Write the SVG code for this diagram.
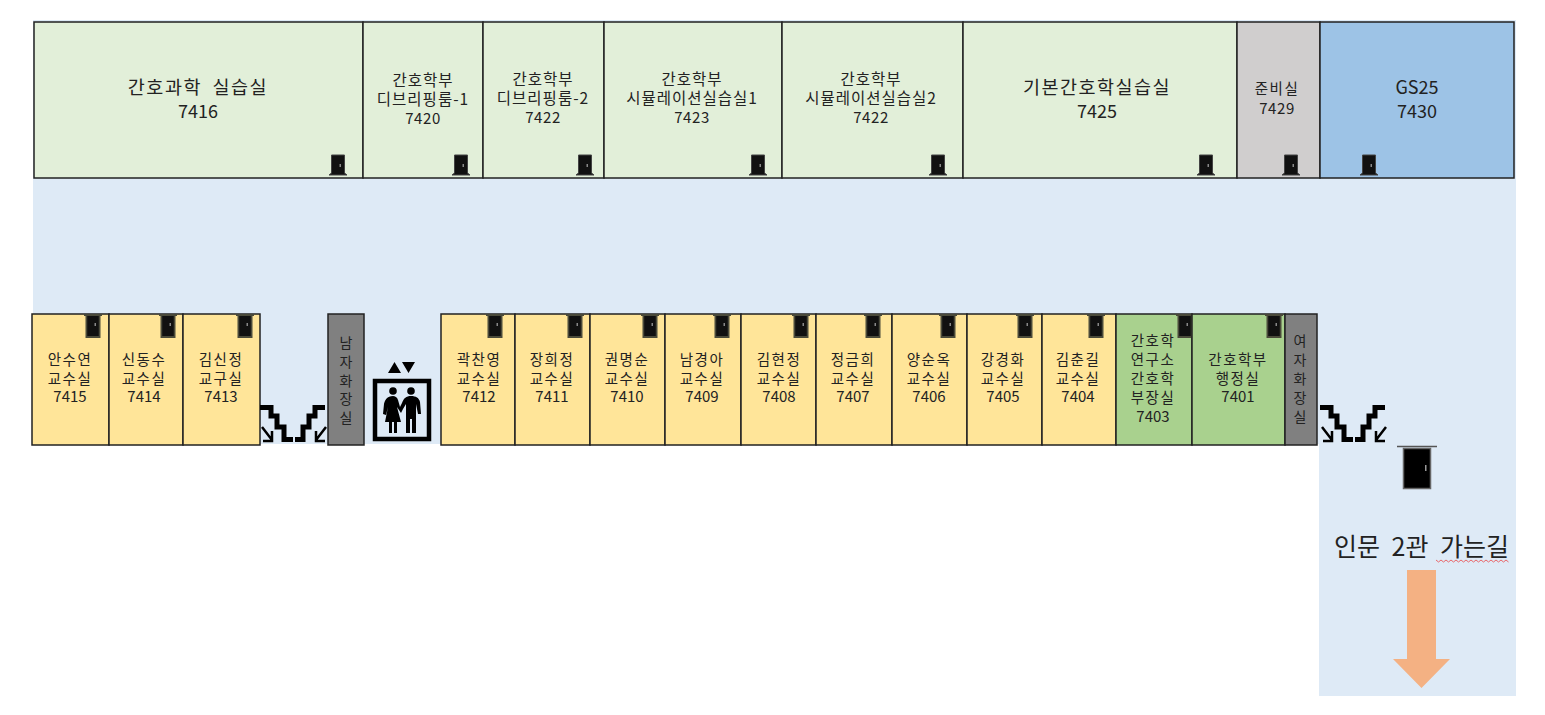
<svg xmlns="http://www.w3.org/2000/svg" xmlns:xlink="http://www.w3.org/1999/xlink" width="1545" height="715" viewBox="0 0 1545 715">
<style>
text{font-family:"Noto Sans CJK KR","Noto Sans",sans-serif;fill:#222;text-anchor:middle}
.s{font-size:14.500px;letter-spacing:1.500px}.t{font-size:14px}.sd{font-size:15px}.m{font-size:15.500px;letter-spacing:1px}.md{font-size:15px;letter-spacing:.6px}.l{font-size:18.500px;letter-spacing:1.500px;word-spacing:5px}.ld{font-size:18px}
.room{stroke:#222;stroke-width:1.5}
.g{fill:#e2efd9}.y{fill:#ffe599}.n{fill:#a9d18e}.d{fill:#808080}
.st{fill:none;stroke:#000;stroke-width:5}
.ar{fill:none;stroke:#000;stroke-width:2.5}
</style>
<defs>
<g id="door-b"><path d="M-6.500 -20 H6.500 V-2 L9 0 H-9 L-6.500 -2Z" fill="#111" stroke="#444" stroke-width="1"/><rect x="1.500" y="-11" width="1.500" height="3" fill="#888"/></g>
<g id="door-t"><path d="M-9 0 H9 M-6.500 0 V22 H6.500 V0" fill="#111" stroke="#4a4a3a" stroke-width="2"/><rect x="-5.500" y="1" width="11" height="20" fill="#111"/><rect x="1.500" y="8" width="1.500" height="3" fill="#888"/></g>
<g id="stairs">
<path class="st" d="M260 407.500H271V416H277V427H284V439.500H293M295 439.500H303V427H309V416H315V407.500H325"/>
<path class="ar" d="M262 427L272 440M272 431V441H263M326 427L316 440M316 431V441H325"/>
</g>
</defs>
<path id="floor" d="M33 20H1516V696H1319V444H33Z" fill="#deeaf6"/>
<g id="r7416"><rect class="room g" x="34" y="22" width="329" height="156"/><text class="l" x="198" y="94">간호과학 실습실</text><text class="ld" x="198" y="118">7416</text><use xlink:href="#door-b" x="338" y="175"/></g>
<g id="r7420"><rect class="room g" x="363" y="22" width="120" height="156"/><text class="m" x="423" y="86">간호학부</text><text class="m" x="423" y="105">디브리핑룸-1</text><text class="md" x="423" y="124">7420</text><use xlink:href="#door-b" x="461" y="175"/></g>
<g id="r7422a"><rect class="room g" x="483" y="22" width="121" height="156"/><text class="m" x="543" y="85">간호학부</text><text class="m" x="543" y="104">디브리핑룸-2</text><text class="md" x="543" y="123">7422</text><use xlink:href="#door-b" x="585" y="175"/></g>
<g id="r7423"><rect class="room g" x="604" y="22" width="178" height="156"/><text class="m" x="692" y="85">간호학부</text><text class="m" x="692" y="104">시뮬레이션실습실1</text><text class="md" x="692" y="123">7423</text><use xlink:href="#door-b" x="758" y="175"/></g>
<g id="r7422b"><rect class="room g" x="782" y="22" width="181" height="156"/><text class="m" x="871" y="85">간호학부</text><text class="m" x="871" y="104">시뮬레이션실습실2</text><text class="md" x="871" y="123">7422</text><use xlink:href="#door-b" x="938" y="175"/></g>
<g id="r7425"><rect class="room g" x="963" y="22" width="274" height="156"/><text class="l" x="1097" y="94">기본간호학실습실</text><text class="ld" x="1097" y="118">7425</text><use xlink:href="#door-b" x="1206" y="175"/></g>
<g id="r7429"><rect class="room" fill="#d0cece" x="1237" y="22" width="83" height="156"/><text class="s" x="1277" y="94">준비실</text><text class="md" x="1277" y="114">7429</text><use xlink:href="#door-b" x="1291" y="175"/></g>
<g id="r7430"><rect class="room" fill="#9dc3e6" x="1320" y="22" width="194" height="156"/><text class="ld" x="1417" y="94">GS25</text><text class="ld" x="1417" y="118">7430</text><use xlink:href="#door-b" x="1369" y="175"/></g>

<g id="r7415"><rect class="room y" x="32" y="314" width="77" height="131"/><text class="s" x="70" y="365">안수연</text><text class="s" x="70" y="384">교수실</text><text class="sd" x="70" y="402">7415</text><use xlink:href="#door-t" x="93" y="315"/></g>
<g id="r7414"><rect class="room y" x="109" y="314" width="74" height="131"/><text class="s" x="144" y="365">신동수</text><text class="s" x="144" y="384">교수실</text><text class="sd" x="144" y="402">7414</text><use xlink:href="#door-t" x="168" y="315"/></g>
<g id="r7413"><rect class="room y" x="183" y="314" width="77" height="131"/><text class="s" x="221" y="365">김신정</text><text class="s" x="221" y="384">교구실</text><text class="sd" x="221" y="402">7413</text><use xlink:href="#door-t" x="245" y="315"/></g>
<g id="stairs-left"><use xlink:href="#stairs"/></g>
<g id="toilet-m"><rect class="room d" x="328" y="314" width="36" height="131"/><text class="t" x="346" y="348">남</text><text class="t" x="346" y="367">자</text><text class="t" x="346" y="386">화</text><text class="t" x="346" y="404">장</text><text class="t" x="346" y="423">실</text></g>
<g id="elevator">
<rect x="375" y="381" width="54" height="58" fill="none" stroke="#000" stroke-width="4.500"/>
<path d="M388 373L394.500 362L401 373ZM402 362H415L408.500 373Z" fill="#000"/>
<circle cx="393" cy="391" r="3.800"/><circle cx="411" cy="391" r="3.800"/>
<path d="M393 396C387 396 385 400 384 404L383 414L386 415L388 407L385 422H389V433H392V422H394V433H397V422H401L397 407L401 413L403 409L406 404V433H410V419H412V433H416V404L418 414L421 414L420 402C419 398 416 396 411 396C406 396 404 398 402 403L400 407L398 400C397 397 395 396 393 396Z" fill="#000"/>
</g>
<g id="r7412"><rect class="room y" x="441" y="314" width="74" height="131"/><text class="s" x="479" y="365">곽찬영</text><text class="s" x="479" y="384">교수실</text><text class="sd" x="479" y="402">7412</text><use xlink:href="#door-t" x="495" y="315"/></g>
<g id="r7411"><rect class="room y" x="515" y="314" width="75" height="131"/><text class="s" x="552" y="365">장희정</text><text class="s" x="552" y="384">교수실</text><text class="sd" x="552" y="402">7411</text><use xlink:href="#door-t" x="575" y="315"/></g>
<g id="r7410"><rect class="room y" x="590" y="314" width="75" height="131"/><text class="s" x="627" y="365">권명순</text><text class="s" x="627" y="384">교수실</text><text class="sd" x="627" y="402">7410</text><use xlink:href="#door-t" x="650" y="315"/></g>
<g id="r7409"><rect class="room y" x="665" y="314" width="76" height="131"/><text class="s" x="702" y="365">남경아</text><text class="s" x="702" y="384">교수실</text><text class="sd" x="702" y="402">7409</text><use xlink:href="#door-t" x="722" y="315"/></g>
<g id="r7408"><rect class="room y" x="741" y="314" width="75" height="131"/><text class="s" x="779" y="365">김현정</text><text class="s" x="779" y="384">교수실</text><text class="sd" x="779" y="402">7408</text><use xlink:href="#door-t" x="801" y="315"/></g>
<g id="r7407"><rect class="room y" x="816" y="314" width="76" height="131"/><text class="s" x="853" y="365">정금희</text><text class="s" x="853" y="384">교수실</text><text class="sd" x="853" y="402">7407</text><use xlink:href="#door-t" x="873" y="315"/></g>
<g id="r7406"><rect class="room y" x="892" y="314" width="75" height="131"/><text class="s" x="929" y="365">양순옥</text><text class="s" x="929" y="384">교수실</text><text class="sd" x="929" y="402">7406</text><use xlink:href="#door-t" x="948" y="315"/></g>
<g id="r7405"><rect class="room y" x="967" y="314" width="75" height="131"/><text class="s" x="1003" y="365">강경화</text><text class="s" x="1003" y="384">교수실</text><text class="sd" x="1003" y="402">7405</text><use xlink:href="#door-t" x="1025" y="315"/></g>
<g id="r7404"><rect class="room y" x="1042" y="314" width="74" height="131"/><text class="s" x="1078" y="365">김춘길</text><text class="s" x="1078" y="384">교수실</text><text class="sd" x="1078" y="402">7404</text><use xlink:href="#door-t" x="1096" y="315"/></g>
<g id="r7403"><rect class="room n" x="1116" y="314" width="76" height="131"/><text class="s" x="1153" y="346">간호학</text><text class="s" x="1153" y="365">연구소</text><text class="s" x="1153" y="384">간호학</text><text class="s" x="1153" y="403">부장실</text><text class="sd" x="1153" y="422">7403</text><use xlink:href="#door-t" x="1185" y="315"/></g>
<g id="r7401"><rect class="room n" x="1192" y="314" width="93" height="131"/><text class="s" x="1238" y="365">간호학부</text><text class="s" x="1238" y="384">행정실</text><text class="sd" x="1238" y="402">7401</text><use xlink:href="#door-t" x="1274" y="315"/></g>
<g id="toilet-f"><rect class="room d" x="1285" y="314" width="32" height="131"/><text class="t" x="1300" y="346">여</text><text class="t" x="1300" y="365">자</text><text class="t" x="1300" y="384">화</text><text class="t" x="1300" y="403">장</text><text class="t" x="1300" y="422">실</text></g>
<g id="stairs-right"><use xlink:href="#stairs" x="1060"/></g>
<g id="exit-door"><path d="M1397 446.500H1437" stroke="#555" stroke-width="1.500"/><rect x="1403.500" y="448.500" width="27" height="40" fill="#000" stroke="#666" stroke-width="1.500"/><rect x="1425" y="465" width="1.500" height="6" fill="#999"/></g>
<g id="exit-label"><text x="1421.500" y="556" style="font-size:25px;word-spacing:6px">인문 2관 가는길</text>
<path d="M1436 560l2.500 2 2.500-2 2.500 2 2.500-2 2.500 2 2.500-2 2.500 2 2.500-2 2.500 2 2.500-2 2.500 2 2.500-2 2.500 2 2.500-2 2.500 2 2.500-2 2.500 2 2.500-2 2.500 2 2.500-2 2.500 2 2.500-2 2.500 2 2.500-2 2.500 2 2.500-2 2.500 2 2.500-2 2.500 2" fill="none" stroke="#e8666a" stroke-width="1"/></g>
<path id="exit-arrow" d="M1407 570H1436V659H1450L1421.500 688L1393 659H1407Z" fill="#f4b183"/>
</svg>
